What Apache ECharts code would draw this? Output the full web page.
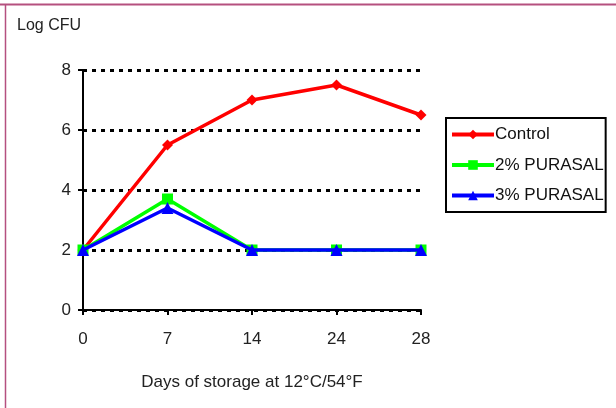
<!DOCTYPE html>
<html><head><meta charset="utf-8">
<script src="https://cdn.jsdelivr.net/npm/echarts@6/dist/echarts.min.js"></script>
<style>html,body{margin:0;padding:0;background:#fff;}#c{width:616px;height:408px;}</style>
</head><body><div id="c"></div>
<script>
const days = ['0','7','14','24','28'];
const control = [2, 5.5, 7, 7.5, 6.5];
const purasal2 = [2, 3.7, 2, 2, 2];
const purasal3 = [2, 3.4, 2, 2, 2];
const yTicks = [0, 2, 4, 6, 8];

const chart = echarts.init(document.getElementById('c'));
const font = 'Liberation Sans';
chart.setOption({
  animation: false,
  textStyle: {fontFamily: font},
  graphic: [
    {type:'line', shape:{x1:0,y1:4.5,x2:616,y2:4.5}, style:{stroke:'#b5507f', lineWidth:2}},
    {type:'line', shape:{x1:5.5,y1:4,x2:5.5,y2:408}, style:{stroke:'#b5507f', lineWidth:1.5}},
    {type:'text', left:17, top:18, style:{text:'Log CFU', fontSize:16, fontFamily:font, fill:'#222'}}
  ],
  grid: {left: 83, top: 70, right: 195, bottom: 98},
  legend: {
    orient: 'vertical', left: 446, top: 118,
    itemWidth: 42, itemHeight: 12, itemGap: 13.5,
    borderColor: '#000', borderWidth: 2, padding: [8, 2, 8, 4],
    lineStyle: {width: 4},
    textStyle: {fontSize: 17, color: '#111', fontFamily: font, padding:[0,0,0,-4]},
    data: ['Control','2% PURASAL','3% PURASAL']
  },
  xAxis: {
    type: 'category', data: days, boundaryGap: false,
    name: 'Days of storage at 12°C/54°F', nameLocation: 'middle', nameGap: 64,
    nameTextStyle: {fontSize: 17, color: '#222'},
    axisLine: {lineStyle: {color: '#000', width: 2}},
    axisTick: {show: true, length: 5, lineStyle: {color:'#000', width: 2}},
    axisLabel: {fontSize: 17, color: '#222', margin: 21},
    splitLine: {show: false}
  },
  yAxis: {
    type: 'value', min: 0, max: 8, interval: 2,
    axisLine: {show: true, lineStyle: {color: '#000', width: 2}},
    axisTick: {show: true, length: 5, lineStyle: {color:'#000', width: 2}},
    axisLabel: {fontSize: 17, color: '#222', margin: 12},
    splitLine: {show: true, lineStyle: {color: '#000', width: 3, type: [4, 5]}}
  },
  series: [
    {name:'Control', type:'line', data: control, symbol:'diamond', symbolSize: 11,
     lineStyle:{color:'#ff0000', width:3.5}, itemStyle:{color:'#ff0000'}, z: 3},
    {name:'2% PURASAL', type:'line', data: purasal2, symbol:'rect', symbolSize: 11,
     lineStyle:{color:'#00ff00', width:3.5}, itemStyle:{color:'#00ff00'}, z: 4},
    {name:'3% PURASAL', type:'line', data: purasal3, symbol:'triangle', symbolSize: 12,
     lineStyle:{color:'#0000ff', width:3.5}, itemStyle:{color:'#0000ff'}, z: 5}
  ]
});
</script></body></html>
